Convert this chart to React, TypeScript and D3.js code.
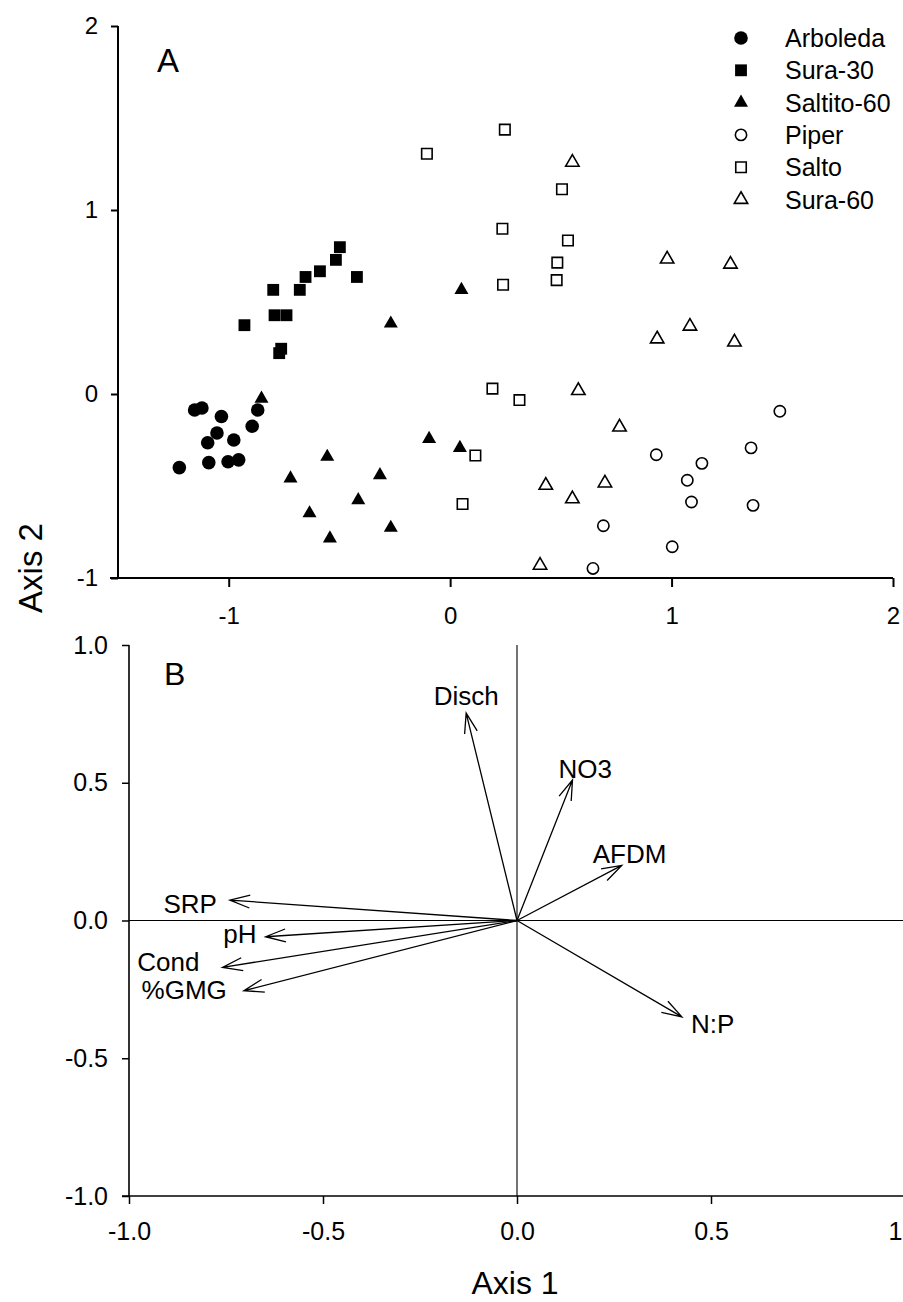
import React, { useEffect, useRef } from "react";
import * as d3 from "d3";

// site scores (Axis 1, Axis 2)
const arboleda = [
  [-1.223, -0.4], [-1.154, -0.087], [-1.121, -0.076], [-1.033, -0.122],
  [-1.053, -0.212], [-1.095, -0.265], [-0.977, -0.25], [-0.894, -0.175],
  [-1.09, -0.373], [-1.003, -0.368], [-0.955, -0.358], [-0.869, -0.087],
];
const sura30 = [
  [-0.929, 0.374], [-0.799, 0.566], [-0.679, 0.566], [-0.653, 0.636],
  [-0.588, 0.667], [-0.516, 0.729], [-0.498, 0.798], [-0.421, 0.636],
  [-0.793, 0.428], [-0.739, 0.428], [-0.763, 0.246], [-0.772, 0.222],
];
const saltito60 = [
  [-0.852, -0.025], [-0.721, -0.459], [-0.635, -0.648], [-0.555, -0.341],
  [-0.543, -0.785], [-0.415, -0.577], [-0.317, -0.441], [-0.268, -0.727],
  [-0.268, 0.383], [-0.095, -0.244], [0.044, -0.293], [0.051, 0.566],
];
const piper = [
  [1.489, -0.094], [1.359, -0.293], [0.931, -0.33], [1.137, -0.377],
  [1.071, -0.469], [1.09, -0.587], [1.368, -0.605], [0.692, -0.716],
  [1.003, -0.83], [0.645, -0.948],
];
const salto = [
  [-0.105, 1.306], [0.247, 1.437], [0.505, 1.113], [0.236, 0.898],
  [0.532, 0.834], [0.484, 0.714], [0.239, 0.594], [0.481, 0.619],
  [0.191, 0.029], [0.313, -0.033], [0.114, -0.334], [0.056, -0.598],
];
const sura60 = [
  [0.552, 1.259], [0.98, 0.733], [1.266, 0.705], [1.083, 0.368],
  [0.935, 0.299], [1.284, 0.282], [0.579, 0.018], [0.765, -0.18],
  [0.432, -0.497], [0.699, -0.484], [0.552, -0.57], [0.406, -0.931],
];

const siteNames = ["Arboleda", "Sura-30", "Saltito-60", "Piper", "Salto", "Sura-60"];
const siteSeries = [arboleda, sura30, saltito60, piper, salto, sura60];

// environmental vectors, panel B
const vectorNames = ["Disch", "NO3", "AFDM", "SRP", "pH", "Cond", "%GMG", "N:P"];
const vectorX = [-0.131, 0.143, 0.27, -0.74, -0.648, -0.759, -0.704, 0.425];
const vectorY = [0.753, 0.51, 0.2, 0.074, -0.059, -0.17, -0.255, -0.35];

const ticksA = [-1, 0, 1, 2];
const ticksB = [-1, -0.5, 0, 0.5, 1];
const ticksBXLabels = ["-1.0", "-0.5", "0.0", "0.5", "1"];
const ticksBYLabels = ["-1.0", "-0.5", "0.0", "0.5", "1.0"];

// label placement next to each arrow tip (px)
const labelPos = {
  Disch: { dx: 0, dy: -8, anchor: "middle" },
  NO3: { dx: -14, dy: -2, anchor: "start" },
  AFDM: { dx: -29, dy: -2, anchor: "start" },
  SRP: { dx: -13, dy: 13, anchor: "end" },
  pH: { dx: -9, dy: 6, anchor: "end" },
  Cond: { dx: -23, dy: 4, anchor: "end" },
  "%GMG": { dx: -17, dy: 8, anchor: "end" },
  "N:P": { dx: 9, dy: 16, anchor: "start" },
};

const FONT = "'Liberation Sans', Arial, Helvetica, sans-serif";

function App() {
  const ref = useRef(null);

  useEffect(() => {
    const svg = d3.select(ref.current);
    svg.selectAll("*").remove();
    svg.attr("font-family", FONT);

    // ---------- panel A ----------
    const xA = d3.scaleLinear().domain([-1.5, 2]).range([118, 893]);
    const yA = d3.scaleLinear().domain([-1, 2]).range([578, 26]);
    const gA = svg.append("g");

    const styleAxis = (g, size, width) => {
      g.select(".domain").remove();
      g.attr("font-family", FONT).attr("font-size", size);
      g.selectAll(".tick line").attr("stroke", "#000").attr("stroke-width", width);
      g.selectAll(".tick text").attr("fill", "#000");
    };

    gA.append("g")
      .attr("transform", "translate(0,578)")
      .call(d3.axisBottom(xA).tickValues(ticksA).tickSize(9).tickPadding(20).tickFormat((d) => String(d)))
      .call((g) => styleAxis(g, 24, 2));
    gA.append("g")
      .attr("transform", "translate(118,0)")
      .call(d3.axisLeft(yA).tickValues(ticksA).tickSize(7).tickPadding(13).tickFormat((d) => String(d)))
      .call((g) => styleAxis(g, 24, 2));

    gA.append("line").attr("x1", 110).attr("x2", xA(2)).attr("y1", yA(-1)).attr("y2", yA(-1))
      .attr("stroke", "#000").attr("stroke-width", 2);
    gA.append("line").attr("x1", 118).attr("x2", 118).attr("y1", yA(2)).attr("y2", yA(-1))
      .attr("stroke", "#000").attr("stroke-width", 2);

    const symTypes = [d3.symbolCircle, d3.symbolSquare, d3.symbolTriangle, d3.symbolCircle, d3.symbolSquare, d3.symbolTriangle];
    const symSizes = [145, 140, 85, 100, 110, 78];
    const filled = [true, true, true, false, false, false];

    siteSeries.forEach((pts, i) => {
      const sym = d3.symbol().type(symTypes[i]).size(symSizes[i]);
      gA.append("g")
        .selectAll("path")
        .data(pts)
        .join("path")
        .attr("d", sym)
        .attr("transform", (d) => `translate(${xA(d[0])},${yA(d[1])})`)
        .attr("fill", filled[i] ? "#000" : "#fff")
        .attr("stroke", "#000")
        .attr("stroke-width", filled[i] ? 0 : 1.6);
    });

    // legend
    const leg = gA.append("g");
    siteNames.forEach((name, i) => {
      const y = 38 + i * 32.3;
      const sym = d3.symbol().type(symTypes[i]).size(symSizes[i]);
      leg.append("path")
        .attr("d", sym)
        .attr("transform", `translate(741,${y})`)
        .attr("fill", filled[i] ? "#000" : "#fff")
        .attr("stroke", "#000")
        .attr("stroke-width", filled[i] ? 0 : 1.6);
      leg.append("text").attr("x", 785).attr("y", y + 9).attr("font-size", 25).text(name);
    });

    gA.append("text").attr("x", 157).attr("y", 72).attr("font-size", 33).text("A");

    // shared y title
    svg.append("text")
      .attr("transform", "translate(42,568) rotate(-90)")
      .attr("text-anchor", "middle")
      .attr("font-size", 33)
      .text("Axis 2");

    // ---------- panel B ----------
    const xB = d3.scaleLinear().domain([-1, 1]).range([129, 905]);
    const yB = d3.scaleLinear().domain([-1, 1]).range([1196, 645]);
    const gB = svg.append("g");

    const xAxisB = gB.append("g")
      .attr("transform", "translate(0,1196)")
      .call(d3.axisBottom(xB).tickValues(ticksB).tickSize(8).tickPadding(18).tickFormat((d, i) => ticksBXLabels[i]))
      .call((g) => styleAxis(g, 25, 1.5));
    // last label sits against the right edge of the page
    xAxisB.selectAll(".tick text").filter((d) => d === 1).attr("text-anchor", "end").attr("x", -3);

    gB.append("g")
      .attr("transform", "translate(129,0)")
      .call(d3.axisLeft(yB).tickValues(ticksB).tickSize(7).tickPadding(14).tickFormat((d, i) => ticksBYLabels[i]))
      .call((g) => styleAxis(g, 25, 1.5));

    gB.append("line").attr("x1", 122).attr("x2", 903).attr("y1", yB(-1)).attr("y2", yB(-1))
      .attr("stroke", "#000").attr("stroke-width", 1.6);
    gB.append("line").attr("x1", 129).attr("x2", 129).attr("y1", yB(1)).attr("y2", yB(-1))
      .attr("stroke", "#000").attr("stroke-width", 1.6);
    gB.append("line").attr("x1", 129).attr("x2", 903).attr("y1", yB(0)).attr("y2", yB(0))
      .attr("stroke", "#000").attr("stroke-width", 1.1);
    gB.append("line").attr("x1", xB(0)).attr("x2", xB(0)).attr("y1", yB(1)).attr("y2", yB(-1))
      .attr("stroke", "#000").attr("stroke-width", 1.1);

    const ox = xB(0);
    const oy = yB(0);
    const headLen = 21;
    const headAng = (18 * Math.PI) / 180;
    vectorNames.forEach((name, i) => {
      const tx = xB(vectorX[i]);
      const ty = yB(vectorY[i]);
      const ang = Math.atan2(oy - ty, ox - tx);
      const a1 = ang + headAng;
      const a2 = ang - headAng;
      const path = d3.path();
      path.moveTo(ox, oy);
      path.lineTo(tx, ty);
      path.moveTo(tx + headLen * Math.cos(a1), ty + headLen * Math.sin(a1));
      path.lineTo(tx, ty);
      path.lineTo(tx + headLen * Math.cos(a2), ty + headLen * Math.sin(a2));
      gB.append("path")
        .attr("d", path.toString())
        .attr("fill", "none")
        .attr("stroke", "#000")
        .attr("stroke-width", 1.3);
      const lp = labelPos[name];
      gB.append("text")
        .attr("x", tx + lp.dx)
        .attr("y", ty + lp.dy)
        .attr("text-anchor", lp.anchor)
        .attr("font-size", 26)
        .text(name);
    });

    gB.append("text").attr("x", 164).attr("y", 685).attr("font-size", 32).text("B");

    svg.append("text")
      .attr("x", 515)
      .attr("y", 1294)
      .attr("text-anchor", "middle")
      .attr("font-size", 32)
      .text("Axis 1");
  }, []);

  return (
    <svg
      ref={ref}
      width={903}
      height={1302}
      style={{ position: "absolute", left: 0, top: 0, background: "#fff" }}
    />
  );
}

export default App;
